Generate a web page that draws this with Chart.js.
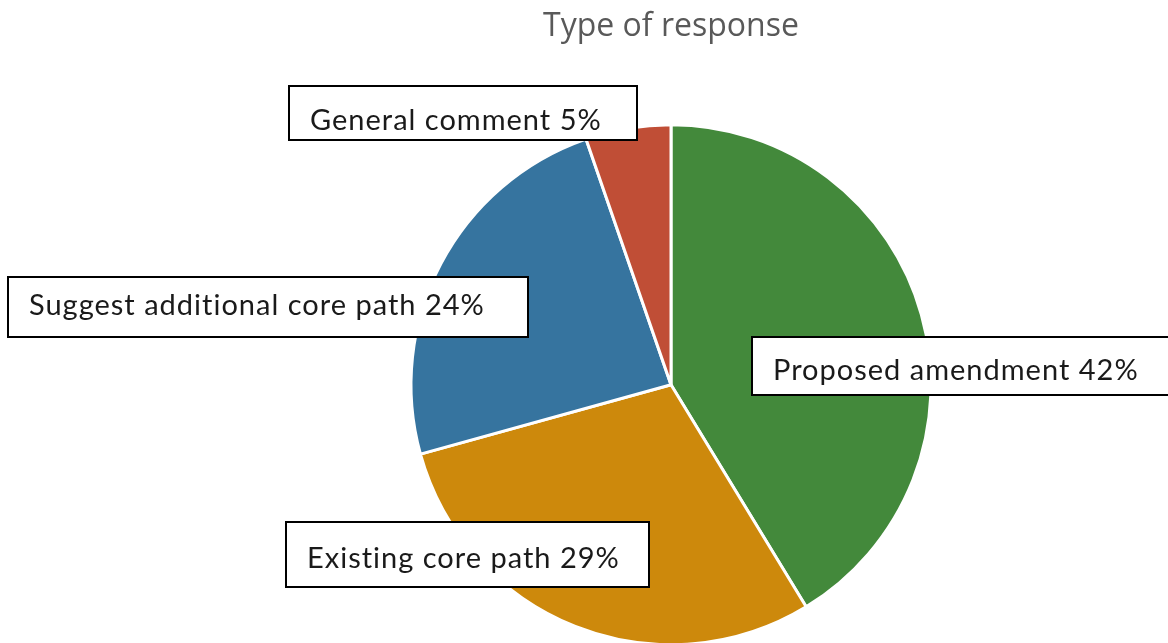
<!DOCTYPE html>
<html>
<head>
<meta charset="utf-8">
<script src="https://cdn.jsdelivr.net/npm/chart.js@4"></script>
<style>
  html, body { margin: 0; padding: 0; background: #fff; }
  canvas { display: block; }
</style>
</head>
<body>
<canvas id="pie-chart" width="1168" height="643"></canvas>
<script>
const categories = ["Proposed amendment", "Existing core path", "Suggest additional core path", "General comment"];
// slice sizes as drawn (%)
const shares = [41.3, 29.4, 24.0, 5.3];
// percentages printed in the labels
const labelPercents = [42, 29, 24, 5];
const sliceColors = ["#43893B", "#CD890C", "#36749F", "#C04E36"];

// label boxes (left, top, width, height, text baseline offset) in canvas px
const labelBoxes = [
    [752, 337, 420, 58, 43],
    [286, 522, 363, 65, 46],
    [8, 277, 520, 60, 38],
    [289, 86, 348, 54, 44]
];

const boxLabels = {
    id: "boxLabels",
    afterDatasetsDraw(chart) {
        const ctx = chart.ctx;
        ctx.save();
        ctx.font = "29px Lato";
        ctx.letterSpacing = "1px";
        ctx.textBaseline = "alphabetic";
        categories.forEach((name, i) => {
            const [x, y, w, h, base] = labelBoxes[i];
            ctx.fillStyle = "#ffffff";
            ctx.fillRect(x, y, w, h);
            ctx.strokeStyle = "#000000";
            ctx.lineWidth = 2;
            ctx.strokeRect(x, y, w, h);
            ctx.fillStyle = "#1a1a1a";
            ctx.fillText(name + " " + labelPercents[i] + "%", x + 21, y + base);
        });
        ctx.restore();
    }
};

new Chart(document.getElementById("pie-chart"), {
    type: "pie",
    data: {
        labels: categories,
        datasets: [{
            data: shares,
            backgroundColor: sliceColors,
            borderColor: "#ffffff",
            borderWidth: 3,
            radius: 260
        }]
    },
    options: {
        responsive: false,
        animation: false,
        layout: { padding: { left: 174, top: 0, right: 0, bottom: 0 } },
        plugins: {
            legend: { display: false },
            tooltip: { enabled: false },
            title: {
                display: true,
                text: "Type of response",
                color: "#595959",
                font: { family: "Open Sans", size: 32, weight: "normal" },
                padding: { top: 8, bottom: 80 }
            }
        }
    },
    plugins: [boxLabels]
});
</script>
</body>
</html>
